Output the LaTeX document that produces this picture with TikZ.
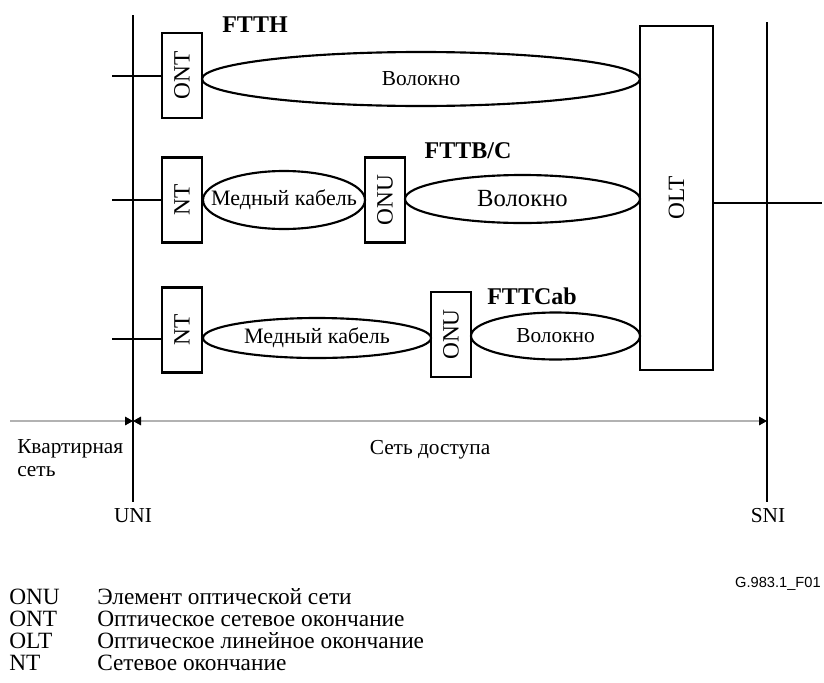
\documentclass[tikz,border=0pt]{standalone}
\usepackage{fontspec}
\setmainfont{Liberation Serif}
\setsansfont{Liberation Sans}
\usepackage{graphicx}
\usetikzlibrary{arrows.meta,shapes.geometric}

\begin{document}
\begin{tikzpicture}[x=0.75pt,y=-0.75pt,
	box/.style={draw,line width=1.6pt,inner sep=0pt,minimum width=30pt,minimum height=63.75pt,font=\fontsize{17.5}{19}\selectfont},
	lens/.style={draw,line width=1.6pt,ellipse,inner sep=0pt},
	word/.style={font=\fontsize{16}{18}\selectfont},
	tag/.style={font=\bfseries\fontsize{18}{20}\selectfont},
	txt/.style={font=\fontsize{16}{17.5}\selectfont},
	key/.style={anchor=west,inner sep=0pt,font=\fontsize{17.5}{19}\selectfont},
	wire/.style={line width=1.6pt},
	span/.style={gray!60,line width=0.8pt,>={Triangle[black,length=6pt,width=6.5pt]}}]
	\useasboundingbox (0,0) rectangle (824,682);
	%
	\coordinate (uniT) at (133,15);
	\coordinate (uniB) at (133,502);
	\coordinate (sniT) at (767,22);
	\coordinate (sniB) at (767,502);
	\draw[line width=2pt] (uniT) -- (uniB);
	\draw[line width=2pt] (sniT) -- (sniB);
	%
	\node[box,minimum width=54.75pt,minimum height=258pt] (olt) at (676.5,198) {\rotatebox{90}{OLT}};
	\coordinate (out) at (822,203);
	\draw[wire] (olt.east |- out) -- (out);
	%
	% FTTH
	\node[tag] (ftth) at (255,25) {FTTH};
	\node[box] (ont) at (182,75.5) {\rotatebox{90}{ONT}};
	\node[lens,minimum width=328.5pt,minimum height=40.5pt,
		label={[word]center:Волокно}] (fa) at (421,79) {};
	\coordinate (sa) at (112,76);
	\draw[wire] (sa) -- (ont.west |- sa);
	%
	% FTTB/C
	\node[tag] (fttb) at (468,151) {FTTB/C};
	\node[box] (nta) at (182,200) {\rotatebox{90}{NT}};
	\node[lens,minimum width=121.5pt,minimum height=43.5pt,
		label={[word,font=\fontsize{16.5}{18}\selectfont]center:Медный кабель}] (ca) at (284,200) {};
	\node[box] (onua) at (385,200) {\rotatebox{90}{ONU}};
	\node[lens,minimum width=176.25pt,minimum height=36pt,
		label={[word,font=\fontsize{18.5}{20}\selectfont]center:Волокно}] (fb) at (522.5,199) {};
	\coordinate (sb) at (112,200);
	\draw[wire] (sb) -- (nta.west |- sb);
	%
	% FTTCab
	\node[tag] (fttc) at (532,296) {FTTCab};
	\node[box] (ntb) at (182,330) {\rotatebox{90}{NT}};
	\node[lens,minimum width=171pt,minimum height=30pt,
		label={[word,font=\fontsize{16.5}{18}\selectfont]center:Медный кабель}] (cb) at (317,338) {};
	\node[box] (onub) at (451,334.5) {\rotatebox{90}{ONU}};
	\node[lens,minimum width=126.75pt,minimum height=35.25pt,
		label={[word]center:Волокно}] (fc) at (555.5,336) {};
	\coordinate (sc) at (112,339);
	\draw[wire] (sc) -- (ntb.west |- sc);
	%
	% spans
	\coordinate (kL) at (10,421);
	\coordinate (kR) at (133,421);
	\coordinate (aR) at (767,421);
	\draw[span,->] (kL) -- (kR);
	\draw[span,<->] (kR) -- (aR);
	\node[txt,align=left,anchor=west,inner sep=0pt] (home) at (17,458) {Квартирная\\сеть};
	\node[txt] (acc) at (430,450) {Сеть доступа};
	\node[txt] (uni) at (133,516) {UNI};
	\node[txt] (sni) at (768,516) {SNI};
	%
	\node[anchor=east,inner sep=0pt,font=\sffamily\fontsize{11}{12}\selectfont] (fig) at (821,584) {G.983.1\_F01};
	%
	% legend
	\node[key] (k1) at (9,597) {ONU};
	\node[key] (k2) at (9,619) {ONT};
	\node[key] (k3) at (9,641) {OLT};
	\node[key] (k4) at (9,663) {NT};
	\node[key] (d1) at (97,597) {Элемент оптической сети};
	\node[key] (d2) at (97,619) {Оптическое сетевое окончание};
	\node[key] (d3) at (97,641) {Оптическое линейное окончание};
	\node[key] (d4) at (97,663) {Сетевое окончание};
\end{tikzpicture}
\end{document}
